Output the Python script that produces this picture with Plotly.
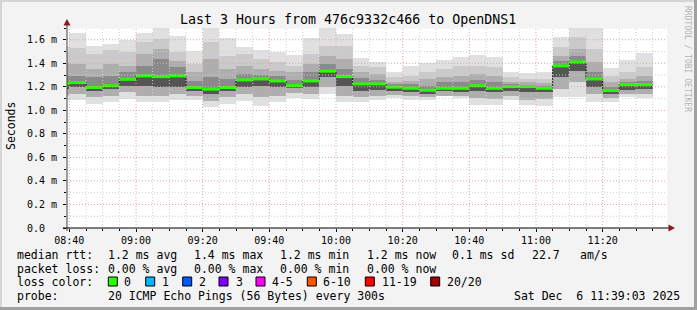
import plotly.graph_objects as go
import pandas as pd

# ---------------- data ----------------
slot_start = pd.date_range("2025-12-06 08:35", periods=36, freq="5min")
step_ms = 300000

median = [1.228, 1.236, 1.194, 1.210, 1.264, 1.293, 1.287, 1.293, 1.194, 1.180,
          1.194, 1.259, 1.267, 1.250, 1.210, 1.250, 1.333, 1.287, 1.225, 1.225,
          1.197, 1.188, 1.171, 1.188, 1.188, 1.210, 1.188, 1.202, 1.202, 1.188,
          1.378, 1.412, 1.267, 1.168, 1.219, 1.219]
ping_max = [1.550, 1.655, 1.550, 1.562, 1.600, 1.655, 1.700, 1.636, 1.505, 1.700,
            1.613, 1.537, 1.517, 1.500, 1.471, 1.613, 1.700, 1.647, 1.443, 1.415,
            1.324, 1.375, 1.400, 1.429, 1.452, 1.471, 1.452, 1.329, 1.315, 1.329,
            1.622, 1.700, 1.700, 1.358, 1.432, 1.485]
ping_u1 = [1.500, 1.528, 1.480, 1.510, 1.494, 1.580, 1.607, 1.494, 1.395, 1.580,
           1.466, 1.480, 1.437, 1.409, 1.380, 1.480, 1.550, 1.550, 1.380, 1.367,
           1.282, 1.296, 1.324, 1.352, 1.380, 1.380, 1.367, 1.282, 1.267, 1.267,
           1.537, 1.622, 1.522, 1.296, 1.324, 1.367]
ping_u2 = [1.400, 1.395, 1.352, 1.395, 1.380, 1.480, 1.522, 1.423, 1.324, 1.437,
           1.352, 1.380, 1.352, 1.338, 1.324, 1.395, 1.466, 1.437, 1.324, 1.310,
           1.245, 1.253, 1.267, 1.282, 1.296, 1.310, 1.296, 1.245, 1.239, 1.233,
           1.466, 1.522, 1.409, 1.239, 1.267, 1.296]
ping_u3 = [1.300, 1.296, 1.282, 1.296, 1.324, 1.380, 1.437, 1.367, 1.253, 1.282,
           1.267, 1.310, 1.301, 1.290, 1.262, 1.324, 1.395, 1.352, 1.273, 1.262,
           1.220, 1.225, 1.211, 1.239, 1.239, 1.262, 1.239, 1.222, 1.219, 1.211,
           1.423, 1.466, 1.324, 1.197, 1.239, 1.253]
ping_l3 = [1.180, 1.197, 1.168, 1.182, 1.211, 1.211, 1.197, 1.197, 1.168, 1.140,
           1.168, 1.197, 1.211, 1.197, 1.188, 1.197, 1.282, 1.211, 1.168, 1.174,
           1.168, 1.154, 1.140, 1.163, 1.154, 1.168, 1.154, 1.168, 1.154, 1.154,
           1.282, 1.338, 1.197, 1.140, 1.174, 1.182]
ping_l2 = [1.130, 1.140, 1.112, 1.126, 1.154, 1.126, 1.126, 1.140, 1.126, 1.083,
           1.112, 1.140, 1.112, 1.126, 1.148, 1.140, 1.197, 1.126, 1.112, 1.126,
           1.131, 1.120, 1.112, 1.126, 1.126, 1.103, 1.098, 1.126, 1.092, 1.098,
           1.182, 1.239, 1.140, 1.103, 1.140, 1.140]
ping_min = [1.090, 1.084, 1.055, 1.075, 1.098, 1.075, 1.069, 1.089, 1.092, 1.032,
            1.055, 1.083, 1.041, 1.069, 1.103, 1.098, 1.140, 1.075, 1.075, 1.092,
            1.103, 1.092, 1.092, 1.120, 1.103, 1.047, 1.047, 1.092, 1.047, 1.041,
            1.117, 1.117, 1.069, 1.075, 1.112, 1.103]

y_tick_vals = [0.0, 0.2, 0.4, 0.6, 0.8, 1.0, 1.2, 1.4, 1.6]
y_tick_text = ["0.0\u00a0\u00a0", "0.2 m", "0.4 m", "0.6 m", "0.8 m", "1.0 m", "1.2 m", "1.4 m", "1.6 m"]

loss_labels = ["0", "1", "2", "3", "4-5", "6-10", "11-19", "20/20"]
loss_colors = ["#26ff00", "#00b8ff", "#0059ff", "#7e00ff", "#ff00ff", "#ff5500", "#ff0000", "#a10000"]

title_text = "Last 3 Hours from 476c9332c466 to OpenDNS1"
median_row = ["median rtt:", "1.2 ms avg", "1.4 ms max", "1.2 ms min", "1.2 ms now", "0.1 ms sd", "22.7", "am/s"]
loss_row = ["packet loss:", "0.00 % avg", "0.00 % max", "0.00 % min", "0.00 % now"]
probe_text = "20 ICMP Echo Pings (56 Bytes) every 300s"
date_text = "Sat Dec  6 11:39:03 2025"

# ---------------- geometry helpers (pixel -> paper) ----------------
L, T, W, H = 67, 28, 600, 200
def px(x):
    return (x - L) / W
def py(y):
    return (T + H - y) / H

MONO = "DejaVu Sans Mono"
centers = slot_start + pd.Timedelta(minutes=2.5)
ends = slot_start + pd.Timedelta(minutes=5)

fig = go.Figure()

bands = [
    (ping_min, ping_max, "#e0e0e0"),
    (ping_l2, ping_u1, "#cacaca"),
    (ping_l2, ping_u2, "#aeaeae"),
    (ping_l3, ping_u3, "#8a8a8a"),
    (ping_l3, median, "#555555"),
]
for lo, hi, col in bands:
    fig.add_trace(go.Bar(
        x=centers, y=[h - l for l, h in zip(lo, hi)], base=lo,
        width=[step_ms] * len(lo), marker=dict(color=col, line=dict(width=0)),
        hoverinfo="skip"))

# black step line through medians
step_x = list(slot_start) + [ends[-1]]
step_y = list(median) + [median[-1]]
fig.add_trace(go.Scatter(x=step_x, y=step_y, mode="lines",
                         line=dict(color="#202020", width=1, shape="hv"), hoverinfo="skip"))

# green loss-coloured median segments
gx, gy = [], []
for s, e, m in zip(slot_start, ends, median):
    gx += [s, e, None]
    gy += [m, m, None]
fig.add_trace(go.Scatter(x=gx, y=gy, mode="lines",
                         line=dict(color=loss_colors[0], width=3), hoverinfo="skip"))

shapes = []
# grid over the smoke
t0 = pd.Timestamp("2025-12-06 08:40")
for k in range(36):
    t = t0 + pd.Timedelta(minutes=5 * k)
    major = (k % 4 == 0)
    shapes.append(dict(type="line", xref="x", yref="paper", x0=t, x1=t, y0=0, y1=1, layer="above",
                       line=dict(color="#e8a0a0" if major else "#cfcfcf", width=1, dash="1px,2px")))
for k in range(1, 18):
    v = k * 0.1
    major = (k % 2 == 0)
    shapes.append(dict(type="line", xref="paper", yref="y", x0=0, x1=1, y0=v, y1=v, layer="above",
                       line=dict(color="#e8a0a0" if major else "#cfcfcf", width=1, dash="1px,2px")))

# axes lines + arrows
shapes.append(dict(type="line", xref="paper", yref="paper", x0=0, x1=0, y0=py(231), y1=py(24),
                   layer="above", line=dict(color="#404040", width=1)))
shapes.append(dict(type="line", xref="paper", yref="paper", x0=px(63), x1=px(670), y0=0, y1=0,
                   layer="above", line=dict(color="#000000", width=1)))
shapes.append(dict(type="path", xref="paper", yref="paper", layer="above",
                   path=f"M {px(67)} {py(19)} L {px(63.5)} {py(25.5)} L {px(70.5)} {py(25.5)} Z",
                   fillcolor="#8b1a1a", line=dict(width=0)))
shapes.append(dict(type="path", xref="paper", yref="paper", layer="above",
                   path=f"M {px(675)} {py(228)} L {px(668.5)} {py(224.5)} L {px(668.5)} {py(231.5)} Z",
                   fillcolor="#8b1a1a", line=dict(width=0)))

# frame
shapes.append(dict(type="rect", xref="paper", yref="paper", x0=px(0), x1=px(697), y0=py(0), y1=py(2),
                   fillcolor="#d4d4d4", line=dict(width=0), layer="above"))
shapes.append(dict(type="rect", xref="paper", yref="paper", x0=px(0), x1=px(2), y0=py(0), y1=py(310),
                   fillcolor="#d4d4d4", line=dict(width=0), layer="above"))
shapes.append(dict(type="rect", xref="paper", yref="paper", x0=px(694), x1=px(697), y0=py(0), y1=py(310),
                   fillcolor="#a0a0a0", line=dict(width=0), layer="above"))
shapes.append(dict(type="rect", xref="paper", yref="paper", x0=px(0), x1=px(697), y0=py(307), y1=py(310),
                   fillcolor="#a0a0a0", line=dict(width=0), layer="above"))

# loss colour boxes
box_x = [108.3, 145.7, 182.7, 219, 256, 307.3, 365.3, 430.7]
for bx, col in zip(box_x, loss_colors):
    shapes.append(dict(type="rect", xref="paper", yref="paper", x0=px(bx), x1=px(bx + 9),
                       y0=py(277), y1=py(286), fillcolor=col, line=dict(color="#000000", width=1)))

ann = []
def text(x, y, s, size=11.5, anchor="left", color="#000000", angle=0):
    ann.append(dict(xref="paper", yref="paper", x=px(x), y=py(y), text=s.replace(" ", "\u00a0"),
                    showarrow=False, xanchor=anchor, yanchor="middle", borderpad=0,
                    textangle=angle, font=dict(family=MONO, size=size, color=color)))

text(348, 19.5, title_text, size=13.3, anchor="center")
text(11, 126, "Seconds", size=11.5, anchor="center", angle=-90)
text(688, 59, "RRDTOOL / TOBI OETIKER", size=8, anchor="center", color="#b4b4b4", angle=90)

row_x = [16, 107.3, 193.3, 279.3, 365.7, 451, 530.7, 579.3]
for x, s in zip(row_x, median_row):
    text(x, 254.5, s)
for x, s in zip(row_x, loss_row):
    text(x, 268.5, s)
text(16, 282, "loss color:")
label_x = [123.3, 161, 198, 235, 270.7, 321.7, 380.7, 445.7]
for x, s in zip(label_x, loss_labels):
    text(x, 282, s)
text(16, 296, "probe:")
text(107.3, 296, probe_text)
text(513.3, 296, date_text)

fig.update_layout(
    width=697, height=310, margin=dict(l=L, r=697 - L - W, t=T, b=310 - T - H),
    paper_bgcolor="#f3f3f3", plot_bgcolor="#ffffff", showlegend=False,
    barmode="overlay", bargap=0, shapes=shapes, annotations=ann,
    xaxis=dict(type="date", range=["2025-12-06 08:39:18", "2025-12-06 11:39:18"],
               tick0="2025-12-06 08:40", dtick=20 * 60 * 1000, tickformat="%H:%M",
               ticks="outside", ticklen=3, tickcolor="#000000", showgrid=False, zeroline=False,
               showline=False, tickfont=dict(family=MONO, size=10, color="#000000"),
               minor=dict(tick0="2025-12-06 08:40", dtick=step_ms, ticks="outside", ticklen=2,
                          tickcolor="#000000", showgrid=False)),
    yaxis=dict(range=[0, 1.7], tickvals=y_tick_vals, ticktext=y_tick_text, ticks="outside",
               ticklen=3, tickcolor="#000000", showgrid=False, zeroline=False, showline=False,
               ticklabelstandoff=4, tickfont=dict(family=MONO, size=10, color="#000000"),
               minor=dict(dtick=0.1, ticks="outside", ticklen=2, tickcolor="#000000", showgrid=False)),
)

fig.write_html("out.html")
